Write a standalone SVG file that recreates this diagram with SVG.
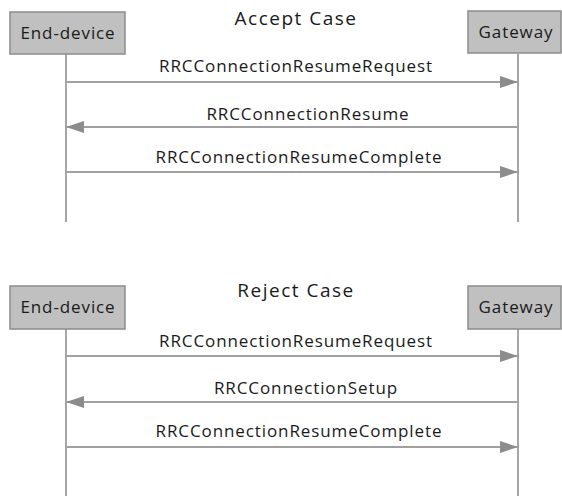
<svg xmlns="http://www.w3.org/2000/svg" width="562" height="498" viewBox="0 0 562 498">
<style>
.box{fill:#c0c0c0;stroke:#8c8c8c;stroke-width:1.5}
.life{stroke:#a6a6a6;stroke-width:2;fill:none}
.msg{stroke:#a0a0a0;stroke-width:2;fill:none}
text{font-family:"Open Sans","Liberation Sans",sans-serif;fill:#1a1a1a}
.t{font-size:17px;letter-spacing:0.9px;text-anchor:middle}
.title{font-size:19px;letter-spacing:1.5px;text-anchor:middle}
</style>
<defs>
<marker id="ah" markerWidth="18" markerHeight="12" refX="18" refY="6" orient="auto" markerUnits="userSpaceOnUse">
<path d="M0,0 L18,6 L0,12 Z" fill="#8c8c8c"/>
</marker>
</defs>
<text class="title" x="296" y="25">Accept Case</text>
<text class="title" x="296" y="297">Reject Case</text>
<g id="lifelines">
<line class="life" x1="66" y1="54" x2="66" y2="222"/>
<line class="life" x1="518" y1="54" x2="518" y2="222"/>
<line class="life" x1="66" y1="329" x2="66" y2="496"/>
<line class="life" x1="518" y1="329" x2="518" y2="496"/>
</g>
<g id="enddevice1"><rect class="box" x="10" y="12" width="115" height="42"/><text class="t" x="68" y="39">End-device</text></g>
<g id="gateway1"><rect class="box" x="468" y="11" width="93" height="42"/><text class="t" x="516" y="38">Gateway</text></g>
<g id="enddevice2"><rect class="box" x="10" y="286" width="115" height="43"/><text class="t" x="68" y="313">End-device</text></g>
<g id="gateway2"><rect class="box" x="468" y="286" width="93" height="43"/><text class="t" x="516" y="313">Gateway</text></g>
<g id="connectors">
<line class="msg" x1="66" y1="82" x2="518" y2="82" marker-end="url(#ah)"/>
<line class="msg" x1="518" y1="127" x2="66" y2="127" marker-end="url(#ah)"/>
<line class="msg" x1="66" y1="172" x2="518" y2="172" marker-end="url(#ah)"/>
<line class="msg" x1="66" y1="356" x2="518" y2="356" marker-end="url(#ah)"/>
<line class="msg" x1="518" y1="402" x2="66" y2="402" marker-end="url(#ah)"/>
<line class="msg" x1="66" y1="447" x2="518" y2="447" marker-end="url(#ah)"/>
</g>
<g id="labels">
<text class="t" x="296" y="72">RRCConnectionResumeRequest</text>
<text class="t" x="308" y="120">RRCConnectionResume</text>
<text class="t" x="299" y="163">RRCConnectionResumeComplete</text>
<text class="t" x="296" y="347">RRCConnectionResumeRequest</text>
<text class="t" x="306" y="394">RRCConnectionSetup</text>
<text class="t" x="299" y="437">RRCConnectionResumeComplete</text>
</g>
</svg>
